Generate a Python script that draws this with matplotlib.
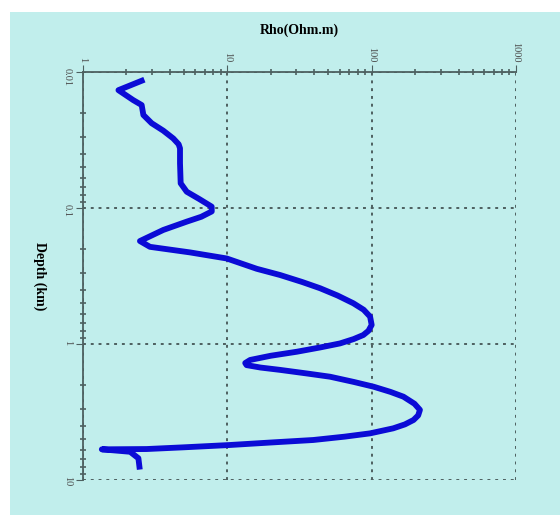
import matplotlib
matplotlib.use("Agg")
import matplotlib.pyplot as plt
from matplotlib.patches import Rectangle
from matplotlib.ticker import LogLocator, FixedLocator, NullFormatter

# resistivity profile
rho = [2.55, 1.76, 2.23, 2.55, 2.62, 2.99, 3.6, 4.22, 4.6, 4.70, 4.70, 4.75, 5.23, 6.4,
       7.79, 7.8, 6.6, 5.23, 3.60, 2.48, 2.91, 5.5, 9.9, 16, 23.2, 33, 43.9, 58, 74.7,
       88, 97.5, 100, 95, 87.5, 75, 60.4, 44, 30.3, 20, 14.4, 13.3, 13.6, 17, 23.2, 36,
       51.5, 75, 103, 135, 166, 198, 216, 210, 195, 170, 141, 97.5, 65, 39.4, 20, 10.4,
       5, 2.76, 1.35, 2.12, 2.42, 2.46]
depth = [0.0116, 0.0136, 0.0161, 0.0175, 0.0207, 0.0238, 0.027, 0.0308, 0.034, 0.0364,
         0.0469, 0.0658, 0.0759, 0.086, 0.0977, 0.106, 0.116, 0.126, 0.145, 0.175, 0.193,
         0.212, 0.235, 0.28, 0.311, 0.35, 0.389, 0.44, 0.502, 0.56, 0.629, 0.724, 0.80,
         0.859, 0.92, 0.99, 1.06, 1.14, 1.22, 1.31, 1.38, 1.43, 1.49, 1.55, 1.65, 1.74,
         1.9, 2.06, 2.25, 2.44, 2.75, 3.05, 3.35, 3.62, 3.9, 4.17, 4.54, 4.8, 5.08, 5.3,
         5.53, 5.75, 5.92, 5.95, 6.2, 6.92, 7.98]

x_ticks = [1, 10, 100, 1000]
x_labels = ["1", "10", "100", "1000"]
y_ticks = [0.01, 0.1, 1, 10]
y_labels = ["0.01", "0.1", "1", "10"]

bg = "#c1eeec"
axis_col = "#4d6060"

fig = plt.figure(figsize=(5.6, 5.15), dpi=100)
fig.patch.set_facecolor("white")
fig.patches.append(Rectangle((10 / 560, 0), 1, 1 - 12 / 515, transform=fig.transFigure,
                             facecolor=bg, edgecolor="none", zorder=-10))

ax = fig.add_axes([83 / 560, 1 - 480 / 515, (516 - 83) / 560, (480 - 72) / 515])
ax.set_facecolor(bg)
ax.plot(rho, depth, color="#0b0bd6", lw=4.2, solid_joinstyle="round", zorder=3)

ax.set_xscale("log")
ax.set_yscale("log")
ax.set_xlim(1, 1000)
ax.set_ylim(10, 0.01)

ax.xaxis.tick_top()
ax.xaxis.set_major_locator(FixedLocator(x_ticks))
ax.set_xticklabels(x_labels)
ax.yaxis.set_major_locator(FixedLocator(y_ticks))
ax.set_yticklabels(y_labels)
ax.xaxis.set_minor_locator(LogLocator(base=10, subs=range(2, 10)))
ax.yaxis.set_minor_locator(LogLocator(base=10, subs=range(2, 10)))
ax.xaxis.set_minor_formatter(NullFormatter())
ax.yaxis.set_minor_formatter(NullFormatter())

ax.tick_params(axis="x", which="major", labelrotation=-90, direction="out", length=5,
               pad=2, colors=axis_col, labelsize=7.5)
ax.tick_params(axis="y", which="major", labelrotation=-90, direction="out", length=5,
               pad=3, colors=axis_col, labelsize=7.5)
ax.tick_params(which="minor", direction="inout", length=4, width=1.2, colors=axis_col)
for lab in ax.get_xticklabels() + ax.get_yticklabels():
    lab.set_family("Liberation Serif")
    lab.set_color("#4a4a4a")

for s in ["right", "bottom"]:
    ax.spines[s].set_visible(False)
for s in ["top", "left"]:
    ax.spines[s].set_color(axis_col)
    ax.spines[s].set_linewidth(1.3)

ax.grid(True, which="major", linestyle=(0, (1.5, 2.5)), color=axis_col, lw=1.4)
ax.set_axisbelow(True)

fig.text(299.5 / 560, 1 - 30 / 515, "Rho(Ohm.m)", ha="center", va="center",
         family="Liberation Serif", fontweight="bold", fontsize=10)
fig.text(40 / 560, 1 - 276 / 515, "Depth (km)", ha="center", va="center", rotation=-90,
         family="Liberation Serif", fontweight="bold", fontsize=10)

fig.savefig("out.png", dpi=100)
